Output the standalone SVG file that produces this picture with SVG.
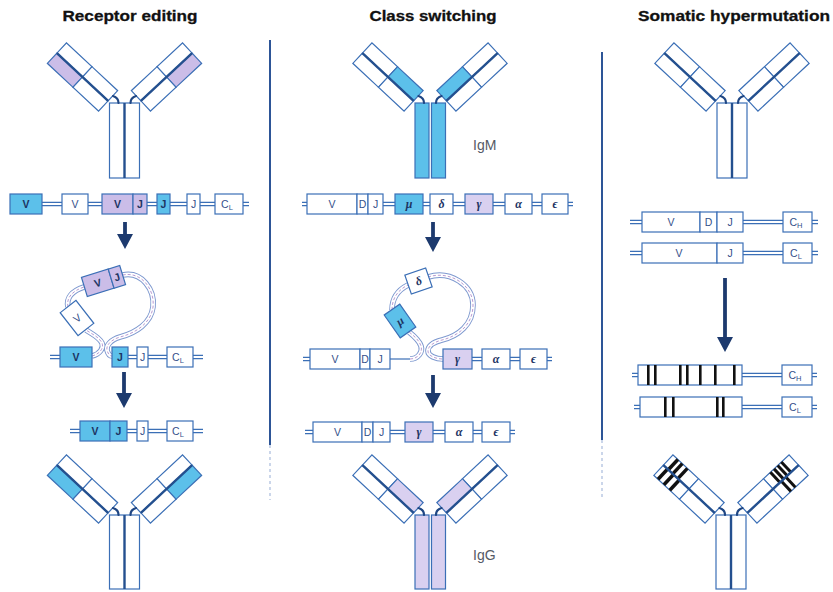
<svg xmlns="http://www.w3.org/2000/svg" width="833" height="592" viewBox="0 0 833 592">
<defs>
<style>
.bx{fill:#fff;stroke:#3b6fb6;stroke-width:1.2}
.cy{fill:#5cc0ea}
.lv{fill:#d9d0f0}
.pu{fill:#cbbde8}
.dk{stroke:#24508f;stroke-width:2.4;fill:none}
.hg{stroke:#1f4683;stroke-width:2.2;fill:none;stroke-linecap:round}
.lk1{stroke:#3b6fb6;stroke-width:4.4;fill:none}
.lk2{stroke:#fff;stroke-width:1.8;fill:none}
.ln{stroke:#3b6fb6;stroke-width:1.2;fill:none}
.lp1{stroke:#7d98cf;stroke-width:5.6;fill:none}
.lp2{stroke:#fff;stroke-width:3.8;fill:none}
.lp3{stroke:#b89ad2;stroke-width:1;stroke-dasharray:3 2;fill:none}
.t{font-family:"Liberation Sans",Arial,sans-serif;font-size:10.5px;fill:#34508a;text-anchor:middle}
.tb{font-weight:bold;fill:#1d3463}
.gk{font-family:"Liberation Serif","Times New Roman",serif;font-style:italic;font-weight:bold;font-size:12px;fill:#1d3463;text-anchor:middle}
.ttl{font-family:"Liberation Sans",Arial,sans-serif;font-weight:bold;font-size:15px;fill:#111;stroke:#111;stroke-width:0.3;text-anchor:middle}
.lab{font-family:"Liberation Sans",Arial,sans-serif;font-size:14px;fill:#555a66}
.ar{stroke:#1d3a6e;stroke-width:3.8;fill:none;marker-end:url(#ah)}
.bar{fill:#111}
.div{stroke:#2d5597;stroke-width:2}
.divf{stroke:#a9bbdc;stroke-width:1.2;stroke-dasharray:3 3}
</style>
<marker id="ah" markerUnits="userSpaceOnUse" viewBox="0 0 15 16" refX="1" refY="8" markerWidth="15" markerHeight="16" orient="auto">
<path d="M0,0 L15,8 L0,16 z" fill="#1d3a6e"/>
</marker>
<!-- double-line links between gene segments -->
<path id="linksRE" d="M42,204H62 M88,204H102 M147,204H157 M170,204H187 M200,204H215 M243,204H249 M50,357H60 M128,357H137 M148,357H167 M193,357H203 M70,431H80 M127,431H137 M148,431H167 M193,431H203"/>
<path id="linksCS" d="M302,204H307 M383,204H395 M423,204H430 M453,204H465 M493,204H505 M532,204H542 M568,204H573 M303,359H310 M472,359H482 M510,359H520 M547,359H552 M305,432H313 M390,432H405 M433,432H445 M473,432H482 M510,432H515"/>
<path id="linksSH" d="M630,222H642 M743,222H783 M812,222H818 M630,253H642 M743,253H783 M812,253H818 M632,375H638 M742,375H782 M812,375H817 M634,407H640 M742,407H782 M812,407H817"/>
<!-- looped-out DNA -->
<path id="loopRE" d="M92,356 C100,354 104,348 102,343 C99,337 92,334 86,330 M68,307 C66,298 72,291 84,287 M122.6,275 C142,271 155,290 153,307 C151,323 136,333 120,337 C110,340 106,346 107,350 C108,354 110,356 112,356"/>
<path id="loopCS" d="M410,359 C418,359 423,352 421,346 C419,340 414,336 409,332 M392,310 C392,298 398,290 408,285 M428,277 C450,270 473,285 473,305 C473,325 458,336 442,340 C434,342 428,346 428,351 C428,356 436,359 443,359"/>
</defs>

<!-- panel titles -->
<g id="titles">
<text class="ttl" x="130" y="21" textLength="135" lengthAdjust="spacingAndGlyphs">Receptor editing</text>
<text class="ttl" x="433" y="21" textLength="127" lengthAdjust="spacingAndGlyphs">Class switching</text>
<text class="ttl" x="734" y="21" textLength="192" lengthAdjust="spacingAndGlyphs">Somatic hypermutation</text>
</g>

<!-- panel dividers -->
<g id="dividers">
<line class="div" x1="270" y1="40" x2="270" y2="445"/>
<line class="divf" x1="270" y1="445" x2="270" y2="500"/>
<line class="div" x1="602" y1="52" x2="602" y2="440"/>
<line class="divf" x1="602" y1="440" x2="602" y2="500"/>
</g>

<!-- connectors: links, loops and arrows -->
<g id="connectors">
<use href="#linksRE" class="lk1"/><use href="#linksRE" class="lk2"/>
<use href="#linksCS" class="lk1"/><use href="#linksCS" class="lk2"/>
<use href="#linksSH" class="lk1"/><use href="#linksSH" class="lk2"/>
<line class="ln" x1="390" y1="359" x2="411" y2="359"/>
<use href="#loopRE" class="lp1"/><use href="#loopRE" class="lp2"/><use href="#loopRE" class="lp3"/>
<use href="#loopCS" class="lp1"/><use href="#loopCS" class="lp2"/><use href="#loopCS" class="lp3"/>
<line class="ar" x1="125" y1="222" x2="125" y2="235"/>
<line class="ar" x1="124" y1="372" x2="124" y2="394"/>
<line class="ar" x1="433" y1="222" x2="433" y2="238"/>
<line class="ar" x1="433" y1="375" x2="433" y2="394"/>
<line class="ar" x1="725" y1="278" x2="725" y2="338"/>
</g>

<!-- ===== Receptor editing ===== -->
<g id="re-ab-top">
<g transform="translate(82.5,77) rotate(43)">
<rect class="bx" x="-35" y="-14" width="35" height="14"/><rect class="bx" x="0" y="-14" width="35" height="14"/>
<rect class="bx pu" x="-35" y="0" width="35" height="14"/><rect class="bx" x="0" y="0" width="35" height="14"/>
<line class="dk" x1="-35" y1="0" x2="35" y2="0"/>
</g>
<g transform="translate(166.5,77) scale(-1,1) rotate(43)">
<rect class="bx" x="-35" y="-14" width="35" height="14"/><rect class="bx" x="0" y="-14" width="35" height="14"/>
<rect class="bx pu" x="-35" y="0" width="35" height="14"/><rect class="bx" x="0" y="0" width="35" height="14"/>
<line class="dk" x1="-35" y1="0" x2="35" y2="0"/>
</g>
<rect class="bx" x="109.5" y="103" width="30" height="75"/>
<line class="dk" x1="124.5" y1="103" x2="124.5" y2="178"/>
<path class="hg" d="M113,96 C116.5,97 118.5,99 118.5,103 M136,96 C132.5,97 130.5,99 130.5,103"/>
</g>

<g id="re-row1">
<rect class="bx cy" x="10" y="194" width="32" height="20"/><text class="t tb" x="26" y="208">V</text>
<rect class="bx" x="62" y="194" width="26" height="20"/><text class="t" x="75" y="208">V</text>
<rect class="bx pu" x="102" y="194" width="31" height="20"/><text class="t tb" x="117.5" y="208">V</text>
<rect class="bx pu" x="133" y="194" width="14" height="20"/><text class="t tb" x="140" y="208">J</text>
<rect class="bx cy" x="157" y="194" width="13" height="20"/><text class="t tb" x="163.5" y="208">J</text>
<rect class="bx" x="187" y="194" width="13" height="20"/><text class="t" x="193.5" y="208">J</text>
<rect class="bx" x="215" y="194" width="28" height="20"/><text class="t" x="227" y="208">C<tspan font-size="7.5" dy="2">L</tspan></text>
</g>

<g id="re-loop">
<g transform="translate(103.5,281) rotate(-17)">
<rect class="bx pu" x="-20" y="-10" width="28" height="20"/><text class="t tb" x="-6" y="4">V</text>
<rect class="bx pu" x="8" y="-10" width="12" height="20"/><text class="t tb" x="14" y="4">J</text>
</g>
<g transform="translate(77,318) rotate(-38)">
<rect class="bx" x="-10" y="-14.5" width="20" height="29"/><text class="t" x="0" y="4">V</text>
</g>
</g>

<g id="re-row3">
<rect class="bx cy" x="60" y="347" width="32" height="20"/><text class="t tb" x="76" y="361">V</text>
<rect class="bx cy" x="112" y="347" width="16" height="20"/><text class="t tb" x="120" y="361">J</text>
<rect class="bx" x="137" y="347" width="11" height="20"/><text class="t" x="142.5" y="361">J</text>
<rect class="bx" x="167" y="347" width="26" height="20"/><text class="t" x="178" y="361">C<tspan font-size="7.5" dy="2">L</tspan></text>
</g>

<g id="re-row4">
<rect class="bx cy" x="80" y="421" width="30" height="20"/><text class="t tb" x="95" y="435">V</text>
<rect class="bx cy" x="110" y="421" width="17" height="20"/><text class="t tb" x="118.5" y="435">J</text>
<rect class="bx" x="137" y="421" width="11" height="20"/><text class="t" x="142.5" y="435">J</text>
<rect class="bx" x="167" y="421" width="26" height="20"/><text class="t" x="178" y="435">C<tspan font-size="7.5" dy="2">L</tspan></text>
</g>

<g id="re-ab-bottom">
<g transform="translate(82.5,489) rotate(43)">
<rect class="bx" x="-35" y="-14" width="35" height="14"/><rect class="bx" x="0" y="-14" width="35" height="14"/>
<rect class="bx cy" x="-35" y="0" width="35" height="14"/><rect class="bx" x="0" y="0" width="35" height="14"/>
<line class="dk" x1="-35" y1="0" x2="35" y2="0"/>
</g>
<g transform="translate(166.5,489) scale(-1,1) rotate(43)">
<rect class="bx" x="-35" y="-14" width="35" height="14"/><rect class="bx" x="0" y="-14" width="35" height="14"/>
<rect class="bx cy" x="-35" y="0" width="35" height="14"/><rect class="bx" x="0" y="0" width="35" height="14"/>
<line class="dk" x1="-35" y1="0" x2="35" y2="0"/>
</g>
<rect class="bx" x="109.5" y="515" width="30" height="74"/>
<line class="dk" x1="124.5" y1="515" x2="124.5" y2="589"/>
<path class="hg" d="M113,508 C116.5,509 118.5,511 118.5,515 M136,508 C132.5,509 130.5,511 130.5,515"/>
</g>

<!-- ===== Class switching ===== -->
<g id="cs-ab-top">
<g transform="translate(388,77) rotate(43)">
<rect class="bx" x="-35" y="-14" width="35" height="14"/><rect class="bx cy" x="0" y="-14" width="35" height="14"/>
<rect class="bx" x="-35" y="0" width="35" height="14"/><rect class="bx" x="0" y="0" width="35" height="14"/>
<line class="dk" x1="-35" y1="0" x2="35" y2="0"/>
</g>
<g transform="translate(472,77) scale(-1,1) rotate(43)">
<rect class="bx" x="-35" y="-14" width="35" height="14"/><rect class="bx cy" x="0" y="-14" width="35" height="14"/>
<rect class="bx" x="-35" y="0" width="35" height="14"/><rect class="bx" x="0" y="0" width="35" height="14"/>
<line class="dk" x1="-35" y1="0" x2="35" y2="0"/>
</g>
<rect class="bx cy" x="415" y="103" width="14" height="75"/>
<rect class="bx cy" x="431.5" y="103" width="14" height="75"/>
<path class="hg" d="M418.5,96 C422,97 424,99 424,103 M441.5,96 C438,97 436,99 436,103"/>
<text class="lab" x="473" y="150">IgM</text>
</g>

<g id="cs-row1">
<rect class="bx" x="307" y="194" width="50" height="20"/><text class="t" x="332" y="208">V</text>
<rect class="bx" x="357" y="194" width="11" height="20"/><text class="t" x="362.5" y="208">D</text>
<rect class="bx" x="368" y="194" width="15" height="20"/><text class="t" x="375.5" y="208">J</text>
<rect class="bx cy" x="395" y="194" width="28" height="20"/><text class="gk" x="409" y="208">μ</text>
<rect class="bx" x="430" y="194" width="23" height="20"/><text class="gk" x="441.5" y="208">δ</text>
<rect class="bx lv" x="465" y="194" width="28" height="20"/><text class="gk" x="479" y="208">γ</text>
<rect class="bx" x="505" y="194" width="27" height="20"/><text class="gk" x="518.5" y="208">α</text>
<rect class="bx" x="542" y="194" width="26" height="20"/><text class="gk" x="555" y="208">ϵ</text>
</g>

<g id="cs-loop">
<g transform="translate(418.5,281) rotate(-19)">
<rect class="bx" x="-11" y="-10" width="22" height="20"/><text class="gk" x="0" y="4">δ</text>
</g>
<g transform="translate(400,321) rotate(-35)">
<rect class="bx cy" x="-9.5" y="-14" width="19" height="28"/><text class="gk" x="0" y="4">μ</text>
</g>
</g>

<g id="cs-row3">
<rect class="bx" x="310" y="349" width="50" height="20"/><text class="t" x="335" y="363">V</text>
<rect class="bx" x="360" y="349" width="10" height="20"/><text class="t" x="365" y="363">D</text>
<rect class="bx" x="370" y="349" width="20" height="20"/><text class="t" x="380" y="363">J</text>
<rect class="bx lv" x="443" y="349" width="29" height="20"/><text class="gk" x="457.5" y="363">γ</text>
<rect class="bx" x="482" y="349" width="28" height="20"/><text class="gk" x="496" y="363">α</text>
<rect class="bx" x="520" y="349" width="27" height="20"/><text class="gk" x="533.5" y="363">ϵ</text>
</g>

<g id="cs-row4">
<rect class="bx" x="313" y="422" width="49" height="20"/><text class="t" x="337.5" y="436">V</text>
<rect class="bx" x="362" y="422" width="11" height="20"/><text class="t" x="367.5" y="436">D</text>
<rect class="bx" x="373" y="422" width="17" height="20"/><text class="t" x="381.5" y="436">J</text>
<rect class="bx lv" x="405" y="422" width="28" height="20"/><text class="gk" x="419" y="436">γ</text>
<rect class="bx" x="445" y="422" width="28" height="20"/><text class="gk" x="459" y="436">α</text>
<rect class="bx" x="482" y="422" width="28" height="20"/><text class="gk" x="496" y="436">ϵ</text>
</g>

<g id="cs-ab-bottom">
<g transform="translate(388,489) rotate(43)">
<rect class="bx" x="-35" y="-14" width="35" height="14"/><rect class="bx lv" x="0" y="-14" width="35" height="14"/>
<rect class="bx" x="-35" y="0" width="35" height="14"/><rect class="bx" x="0" y="0" width="35" height="14"/>
<line class="dk" x1="-35" y1="0" x2="35" y2="0"/>
</g>
<g transform="translate(472,489) scale(-1,1) rotate(43)">
<rect class="bx" x="-35" y="-14" width="35" height="14"/><rect class="bx lv" x="0" y="-14" width="35" height="14"/>
<rect class="bx" x="-35" y="0" width="35" height="14"/><rect class="bx" x="0" y="0" width="35" height="14"/>
<line class="dk" x1="-35" y1="0" x2="35" y2="0"/>
</g>
<rect class="bx lv" x="415" y="515" width="14" height="74"/>
<rect class="bx lv" x="431.5" y="515" width="14" height="74"/>
<path class="hg" d="M418.5,508 C422,509 424,511 424,515 M441.5,508 C438,509 436,511 436,515"/>
<text class="lab" x="473" y="560">IgG</text>
</g>

<!-- ===== Somatic hypermutation ===== -->
<g id="sh-ab-top">
<g transform="translate(690,77) rotate(43)">
<rect class="bx" x="-35" y="-14" width="35" height="14"/><rect class="bx" x="0" y="-14" width="35" height="14"/>
<rect class="bx" x="-35" y="0" width="35" height="14"/><rect class="bx" x="0" y="0" width="35" height="14"/>
<line class="dk" x1="-35" y1="0" x2="35" y2="0"/>
</g>
<g transform="translate(774,77) scale(-1,1) rotate(43)">
<rect class="bx" x="-35" y="-14" width="35" height="14"/><rect class="bx" x="0" y="-14" width="35" height="14"/>
<rect class="bx" x="-35" y="0" width="35" height="14"/><rect class="bx" x="0" y="0" width="35" height="14"/>
<line class="dk" x1="-35" y1="0" x2="35" y2="0"/>
</g>
<rect class="bx" x="717" y="103" width="30" height="75"/>
<line class="dk" x1="732" y1="103" x2="732" y2="178"/>
<path class="hg" d="M720.5,96 C724,97 726,99 726,103 M743.5,96 C740,97 738,99 738,103"/>
</g>

<g id="sh-rowH">
<rect class="bx" x="642" y="212" width="58" height="20"/><text class="t" x="671" y="226">V</text>
<rect class="bx" x="700" y="212" width="17" height="20"/><text class="t" x="708.5" y="226">D</text>
<rect class="bx" x="717" y="212" width="26" height="20"/><text class="t" x="730" y="226">J</text>
<rect class="bx" x="783" y="212" width="29" height="20"/><text class="t" x="796" y="226">C<tspan font-size="7.5" dy="2">H</tspan></text>
</g>
<g id="sh-rowL">
<rect class="bx" x="642" y="243" width="75" height="20"/><text class="t" x="679" y="257">V</text>
<rect class="bx" x="717" y="243" width="26" height="20"/><text class="t" x="730" y="257">J</text>
<rect class="bx" x="783" y="243" width="29" height="20"/><text class="t" x="796" y="257">C<tspan font-size="7.5" dy="2">L</tspan></text>
</g>

<g id="sh-rowH-mut">
<rect class="bx" x="638" y="365" width="104" height="20"/>
<rect class="bar" x="647" y="365" width="2.6" height="20"/><rect class="bar" x="654" y="365" width="2.6" height="20"/>
<rect class="bar" x="679" y="365" width="2.6" height="20"/><rect class="bar" x="686" y="365" width="2.6" height="20"/>
<rect class="bar" x="699" y="365" width="2.6" height="20"/><rect class="bar" x="714" y="365" width="2.6" height="20"/>
<rect class="bar" x="733" y="365" width="2.6" height="20"/>
<rect class="bx" x="782" y="365" width="30" height="20"/><text class="t" x="795" y="379">C<tspan font-size="7.5" dy="2">H</tspan></text>
</g>
<g id="sh-rowL-mut">
<rect class="bx" x="640" y="397" width="102" height="20"/>
<rect class="bar" x="664" y="397" width="2.6" height="20"/><rect class="bar" x="672" y="397" width="2.6" height="20"/>
<rect class="bar" x="716" y="397" width="2.6" height="20"/><rect class="bar" x="722" y="397" width="2.6" height="20"/>
<rect class="bx" x="782" y="397" width="30" height="20"/><text class="t" x="795" y="411">C<tspan font-size="7.5" dy="2">L</tspan></text>
</g>

<g id="sh-ab-bottom">
<g transform="translate(689,489) rotate(43)">
<rect class="bx" x="-35" y="-14" width="35" height="14"/><rect class="bx" x="0" y="-14" width="35" height="14"/>
<rect class="bx" x="-35" y="0" width="35" height="14"/><rect class="bx" x="0" y="0" width="35" height="14"/>
<rect class="bar" x="-30" y="-14" width="3.5" height="14"/><rect class="bar" x="-24" y="-14" width="3.5" height="14"/><rect class="bar" x="-17" y="-14" width="3.5" height="14"/>
<rect class="bar" x="-31" y="0" width="3.5" height="14"/><rect class="bar" x="-23" y="0" width="3.5" height="14"/><rect class="bar" x="-15" y="0" width="3.5" height="14"/>
<line class="dk" x1="-35" y1="0" x2="35" y2="0"/>
</g>
<g transform="translate(773,489) scale(-1,1) rotate(43)">
<rect class="bx" x="-35" y="-14" width="35" height="14"/><rect class="bx" x="0" y="-14" width="35" height="14"/>
<rect class="bx" x="-35" y="0" width="35" height="14"/><rect class="bx" x="0" y="0" width="35" height="14"/>
<rect class="bar" x="-26" y="-14" width="3" height="14"/><rect class="bar" x="-21" y="-14" width="3" height="14"/><rect class="bar" x="-16" y="-14" width="3" height="14"/><rect class="bar" x="-11" y="-14" width="3" height="14"/>
<rect class="bar" x="-19" y="0" width="3" height="14"/><rect class="bar" x="-13" y="0" width="3" height="14"/>
<line class="dk" x1="-35" y1="0" x2="35" y2="0"/>
</g>
<rect class="bx" x="716" y="515" width="30" height="74"/>
<line class="dk" x1="731" y1="515" x2="731" y2="589"/>
<path class="hg" d="M719.5,508 C723,509 725,511 725,515 M742.5,508 C739,509 737,511 737,515"/>
</g>
</svg>
